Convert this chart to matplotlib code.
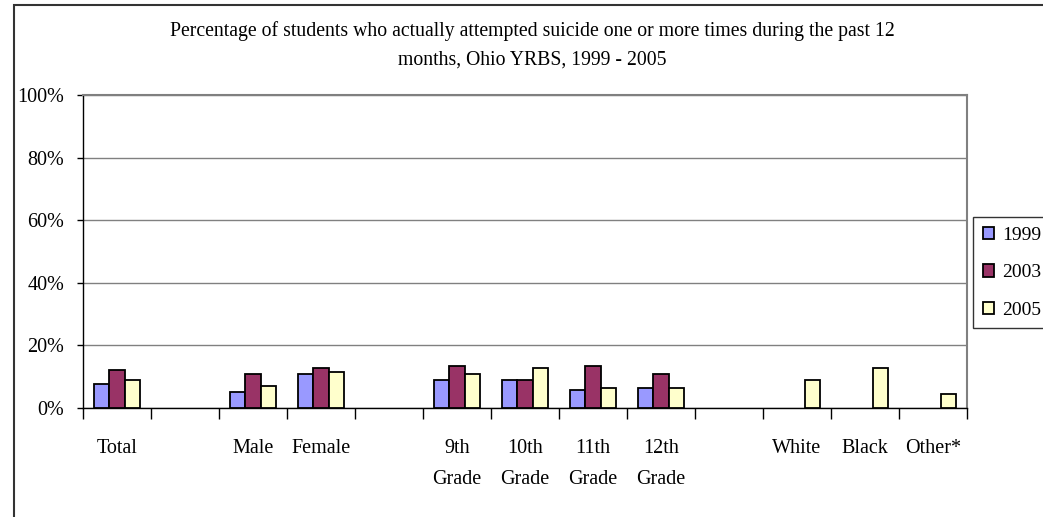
import numpy as np
import matplotlib
matplotlib.use('Agg')
import matplotlib.pyplot as plt
from matplotlib.patches import Rectangle, Patch

# dati (percentuali)
categories = ['Total', '', 'Male', 'Female', '', '9th\nGrade', '10th\nGrade',
              '11th\nGrade', '12th\nGrade', '', 'White', 'Black', 'Other*']
years = ['1999', '2003', '2005']
vals_1999 = [7.7, np.nan, 5.2, 11.0, np.nan, 8.9, 8.9, 5.7, 6.3, np.nan, np.nan, np.nan, np.nan]
vals_2003 = [12.2, np.nan, 11.0, 12.8, np.nan, 13.5, 8.9, 13.5, 11.0, np.nan, np.nan, np.nan, np.nan]
vals_2005 = [9.0, np.nan, 7.0, 11.6, np.nan, 11.0, 12.8, 6.3, 6.3, np.nan, 9.0, 12.8, 4.6]
colors = ['#9999FF', '#993366', '#FFFFCC']

plt.rcParams['font.family'] = ['Liberation Serif', 'DejaVu Serif']

W, H = 1043, 517
fig = plt.figure(figsize=(W / 100, H / 100), dpi=100)

# cornice esterna del grafico (tagliata a destra e in basso)
fig.patches.append(Rectangle((14 / W, -0.1), 1.2, 1.1 - 5 / H, transform=fig.transFigure,
                             fill=False, edgecolor='#333333', linewidth=1.5))

left, right, top, bottom = 83, 967, 95, 408
ax = fig.add_axes([left / W, 1 - bottom / H, (right - left) / W, (bottom - top) / H])

x = np.arange(len(categories))
width = 1 / 4.5
series = [vals_1999, vals_2003, vals_2005]
for k, (vals, col) in enumerate(zip(series, colors)):
    ax.bar(x + (k - 1) * width, vals, width, color=col, edgecolor='black',
           linewidth=1.3, zorder=3)

ax.set_xlim(-0.5, len(categories) - 0.5)
ax.set_ylim(0, 100)
ax.set_yticks(np.arange(0, 101, 20))
ax.set_yticklabels([f'{v}%' for v in range(0, 101, 20)], fontsize=14.5)
ax.grid(axis='y', color='#808080', linewidth=1.0, zorder=0)

ax.set_xticks(x)
ax.set_xticklabels(categories, fontsize=14.5, linespacing=1.9, va='top')
ax.set_xticks(np.arange(-0.5, len(categories)), minor=True)
ax.tick_params(axis='x', which='major', length=0, pad=22)
ax.tick_params(axis='x', which='minor', length=8, width=1, direction='out', color='black')
ax.tick_params(axis='y', length=4.5, width=1, direction='out', color='black', pad=9)

for s in ['top', 'right']:
    ax.spines[s].set_color('#808080')
    ax.spines[s].set_linewidth(1.5)
for s in ['left', 'bottom']:
    ax.spines[s].set_color('black')
    ax.spines[s].set_linewidth(1.0)

fig.text(0.51, 1 - 31 / H,
         'Percentage of students who actually attempted suicide one or more times during the past 12',
         ha='center', va='center', fontsize=14.2)
fig.text(0.51, 1 - 60 / H, 'months, Ohio YRBS, 1999 - 2005',
         ha='center', va='center', fontsize=14.2)

handles = [Patch(facecolor=c, edgecolor='black', linewidth=1.3) for c in colors]
leg = fig.legend(handles, years, loc='upper left', bbox_to_anchor=(973 / W, 1 - 217 / H),
                 fontsize=14, frameon=True, fancybox=False, handlelength=0.6,
                 handleheight=0.6, handletextpad=0.4, labelspacing=1.05,
                 borderpad=0.5, borderaxespad=0)
leg.get_frame().set_edgecolor('black')
leg.get_frame().set_linewidth(1.0)

fig.savefig('out.png', dpi=100)
